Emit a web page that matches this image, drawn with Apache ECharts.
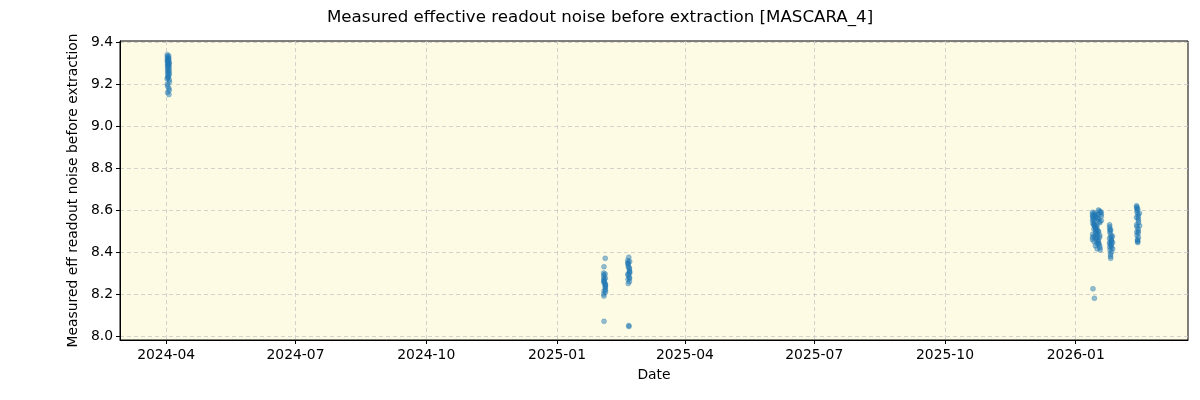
<!DOCTYPE html>
<html><head><meta charset="utf-8">
<script src="https://cdn.jsdelivr.net/npm/echarts@6/dist/echarts.min.js"></script>
<style>html,body{margin:0;padding:0;background:#fff}#c{width:1200px;height:400px}</style>
</head><body><div id="c"></div>
<script>
const title = 'Measured effective readout noise before extraction [MASCARA_4]';
const xLabel = 'Date';
const yLabel = 'Measured eff readout noise before extraction';
const xTickLabels = ['2024-04','2024-07','2024-10','2025-01','2025-04','2025-07','2025-10','2026-01'];
const yTicks = [8.0, 8.2, 8.4, 8.6, 8.8, 9.0, 9.2, 9.4];

const dates1 = ['2024-04-01T18:00','2024-04-01T19:00','2024-04-01T20:00','2024-04-01T21:00','2024-04-01T22:00','2024-04-01T23:00','2024-04-02T00:00','2024-04-02T01:00','2024-04-02T02:00','2024-04-02T03:00','2024-04-02T04:00','2024-04-02T05:00','2024-04-02T18:00','2024-04-02T19:00','2024-04-02T20:00','2024-04-02T21:00','2024-04-02T22:00','2024-04-02T23:00','2024-04-03T00:00','2024-04-03T01:00','2024-04-03T02:00','2024-04-03T03:00','2024-04-03T04:00','2024-04-03T05:00','2024-04-01T20:30','2024-04-02T01:30','2024-04-02T21:30','2024-04-03T02:30','2024-04-02T00:30','2024-04-02T22:30','2024-04-01T22:30','2024-04-03T03:30','2024-04-02T10:00','2024-04-02T12:00','2024-04-02T14:00','2024-04-01T16:00'];
const values1 = [9.34,9.33,9.32,9.31,9.30,9.29,9.28,9.27,9.26,9.25,9.24,9.23,9.335,9.325,9.315,9.305,9.295,9.285,9.275,9.265,9.255,9.245,9.22,9.21,9.20,9.19,9.18,9.17,9.16,9.15,9.31,9.30,9.29,9.32,9.235,9.225];

const dates2 = ['2025-02-02T20:00','2025-02-02T22:00','2025-02-03T00:00','2025-02-03T02:00','2025-02-03T04:00','2025-02-03T20:00','2025-02-03T22:00','2025-02-04T00:00','2025-02-04T02:00','2025-02-04T04:00','2025-02-02T21:00','2025-02-03T01:00','2025-02-03T21:00','2025-02-04T01:00','2025-02-02T23:00','2025-02-03T23:00','2025-02-03T03:00','2025-02-04T03:00','2025-02-03T00:30','2025-02-03T22:30','2025-02-03T01:30','2025-02-03T02:30'];
const values2 = [8.30,8.29,8.28,8.27,8.26,8.25,8.24,8.23,8.22,8.21,8.20,8.19,8.295,8.275,8.255,8.235,8.215,8.245,8.265,8.37,8.33,8.07];

const dates3 = ['2025-02-19T20:00','2025-02-19T22:00','2025-02-20T00:00','2025-02-20T02:00','2025-02-20T04:00','2025-02-20T20:00','2025-02-20T22:00','2025-02-21T00:00','2025-02-21T02:00','2025-02-21T04:00','2025-02-19T21:00','2025-02-20T01:00','2025-02-20T21:00','2025-02-21T01:00','2025-02-19T23:00','2025-02-20T23:00','2025-02-20T03:00','2025-02-21T03:00','2025-02-20T12:00','2025-02-20T13:00','2025-02-20T14:00'];
const values3 = [8.36,8.35,8.345,8.34,8.33,8.325,8.32,8.31,8.305,8.30,8.295,8.29,8.28,8.275,8.27,8.26,8.25,8.355,8.375,8.05,8.045];

const dates4 = ['2026-01-12T20:00','2026-01-13T00:00','2026-01-13T04:00','2026-01-13T20:00','2026-01-14T00:00','2026-01-14T04:00','2026-01-14T20:00','2026-01-15T00:00','2026-01-15T04:00','2026-01-15T20:00','2026-01-16T00:00','2026-01-16T04:00','2026-01-16T20:00','2026-01-17T00:00','2026-01-17T04:00','2026-01-17T20:00','2026-01-18T00:00','2026-01-18T04:00','2026-01-12T22:00','2026-01-13T22:00','2026-01-14T22:00','2026-01-15T22:00','2026-01-16T22:00','2026-01-17T22:00','2026-01-13T02:00','2026-01-14T02:00','2026-01-15T02:00','2026-01-16T02:00','2026-01-17T02:00','2026-01-12T23:00','2026-01-13T23:00','2026-01-14T23:00','2026-01-15T23:00','2026-01-16T23:00','2026-01-17T23:00','2026-01-18T02:00','2026-01-13T01:00','2026-01-14T01:00','2026-01-15T01:00','2026-01-16T01:00','2026-01-17T01:00','2026-01-13T03:00','2026-01-14T03:00','2026-01-12T21:00','2026-01-12T21:30','2026-01-13T21:00','2026-01-13T21:30','2026-01-14T21:00','2026-01-14T21:30','2026-01-15T21:00','2026-01-15T21:30','2026-01-16T21:00','2026-01-16T21:30','2026-01-17T21:00','2026-01-17T21:30','2026-01-18T21:00','2026-01-18T22:00','2026-01-18T23:00','2026-01-19T00:00','2026-01-12T19:00','2026-01-13T19:00','2026-01-14T19:00','2026-01-15T19:00','2026-01-16T19:00','2026-01-17T19:00'];
const values4 = [8.58,8.57,8.56,8.55,8.54,8.53,8.52,8.51,8.50,8.49,8.48,8.47,8.46,8.45,8.44,8.43,8.42,8.41,8.59,8.585,8.575,8.565,8.555,8.545,8.535,8.525,8.515,8.505,8.495,8.485,8.475,8.465,8.455,8.60,8.595,8.59,8.57,8.56,8.58,8.415,8.44,8.225,8.18,8.55,8.47,8.53,8.45,8.57,8.49,8.52,8.44,8.56,8.50,8.54,8.48,8.59,8.58,8.57,8.55,8.46,8.51,8.43,8.53,8.58,8.47];

const dates5 = ['2026-01-24T20:00','2026-01-24T22:00','2026-01-25T00:00','2026-01-25T02:00','2026-01-25T04:00','2026-01-25T20:00','2026-01-25T22:00','2026-01-26T00:00','2026-01-26T02:00','2026-01-26T04:00','2026-01-24T21:00','2026-01-25T01:00','2026-01-25T21:00','2026-01-26T01:00','2026-01-24T23:00','2026-01-25T23:00','2026-01-25T03:00','2026-01-26T03:00','2026-01-25T12:00','2026-01-25T13:00','2026-01-25T14:00','2026-01-25T15:00','2026-01-26T20:00','2026-01-26T22:00','2026-01-27T00:00','2026-01-24T18:00'];
const values5 = [8.53,8.52,8.51,8.50,8.49,8.48,8.47,8.46,8.455,8.45,8.445,8.44,8.435,8.43,8.425,8.42,8.41,8.40,8.39,8.38,8.37,8.505,8.475,8.445,8.415,8.465];

const dates6 = ['2026-02-12T20:00','2026-02-12T22:00','2026-02-13T00:00','2026-02-13T02:00','2026-02-13T04:00','2026-02-13T20:00','2026-02-13T22:00','2026-02-14T00:00','2026-02-14T02:00','2026-02-14T04:00','2026-02-12T21:00','2026-02-13T01:00','2026-02-13T21:00','2026-02-14T01:00','2026-02-12T23:00','2026-02-13T23:00','2026-02-13T03:00','2026-02-14T03:00','2026-02-13T12:00','2026-02-13T13:00','2026-02-13T14:00','2026-02-13T15:00','2026-02-13T16:00','2026-02-14T20:00','2026-02-14T22:00','2026-02-12T18:00'];
const values6 = [8.62,8.615,8.61,8.60,8.59,8.58,8.57,8.56,8.55,8.54,8.53,8.52,8.51,8.50,8.495,8.49,8.48,8.47,8.46,8.455,8.45,8.445,8.605,8.585,8.525,8.565];

const allDates = [dates1, dates2, dates3, dates4, dates5, dates6];
const allValues = [values1, values2, values3, values4, values5, values6];
const points = [];
allDates.forEach((ds, k) => ds.forEach((d, i) => points.push([Date.parse(d + ':00Z'), allValues[k][i]])));

const tickTimes = xTickLabels.map(s => Date.parse(s + '-01T00:00:00Z'));
const xMin = Date.parse('2024-02-28T12:00:00Z');
const xMax = Date.parse('2026-03-21T00:00:00Z');

const chart = echarts.init(document.getElementById('c'), null, {renderer: 'canvas'});
const font = 'DejaVu Sans';
chart.setOption({
  animation: false,
  backgroundColor: '#ffffff',
  title: {text: title, left: 'center', top: 4, textStyle: {fontFamily: font, fontSize: 16.67, fontWeight: 'normal', color: '#000'}},
  grid: {left: 120, right: 12, top: 41, bottom: 60, show: true, backgroundColor: '#fdfbe3', borderColor: '#000', borderWidth: 1},
  xAxis: {
    type: 'value', min: xMin, max: xMax,
    name: xLabel, nameLocation: 'middle', nameGap: 28, nameTextStyle: {fontFamily: font, fontSize: 13.9, color: '#000'},
    axisLine: {show: true, lineStyle: {color: '#000'}},
    axisTick: {show: true, length: 4, lineStyle: {color: '#000'}, customValues: tickTimes},
    axisLabel: {customValues: tickTimes, fontFamily: font, fontSize: 13.9, color: '#000', margin: 8,
      formatter: v => { const i = tickTimes.indexOf(v); return i >= 0 ? xTickLabels[i] : ''; }},
    splitLine: {show: true, lineStyle: {color: '#c8c8c8', type: [4, 3], width: 0.8}}
  },
  yAxis: {
    type: 'value', min: 7.981, max: 9.405,
    name: yLabel, nameLocation: 'middle', nameGap: 38, nameTextStyle: {fontFamily: font, fontSize: 13.9, color: '#000'},
    axisLine: {show: true, lineStyle: {color: '#000'}},
    axisTick: {show: true, length: 4, lineStyle: {color: '#000'}, customValues: yTicks},
    axisLabel: {customValues: yTicks, fontFamily: font, fontSize: 13.9, color: '#000', margin: 7, formatter: v => v.toFixed(1)},
    splitLine: {show: true, lineStyle: {color: '#c8c8c8', type: [4, 3], width: 0.8}}
  },
  series: [{
    type: 'scatter', data: points, symbol: 'circle', symbolSize: 5,
    itemStyle: {color: 'rgba(31,119,180,0.6)', borderColor: 'rgba(31,119,180,0.7)', borderWidth: 0.5}
  }]
});
</script></body></html>
